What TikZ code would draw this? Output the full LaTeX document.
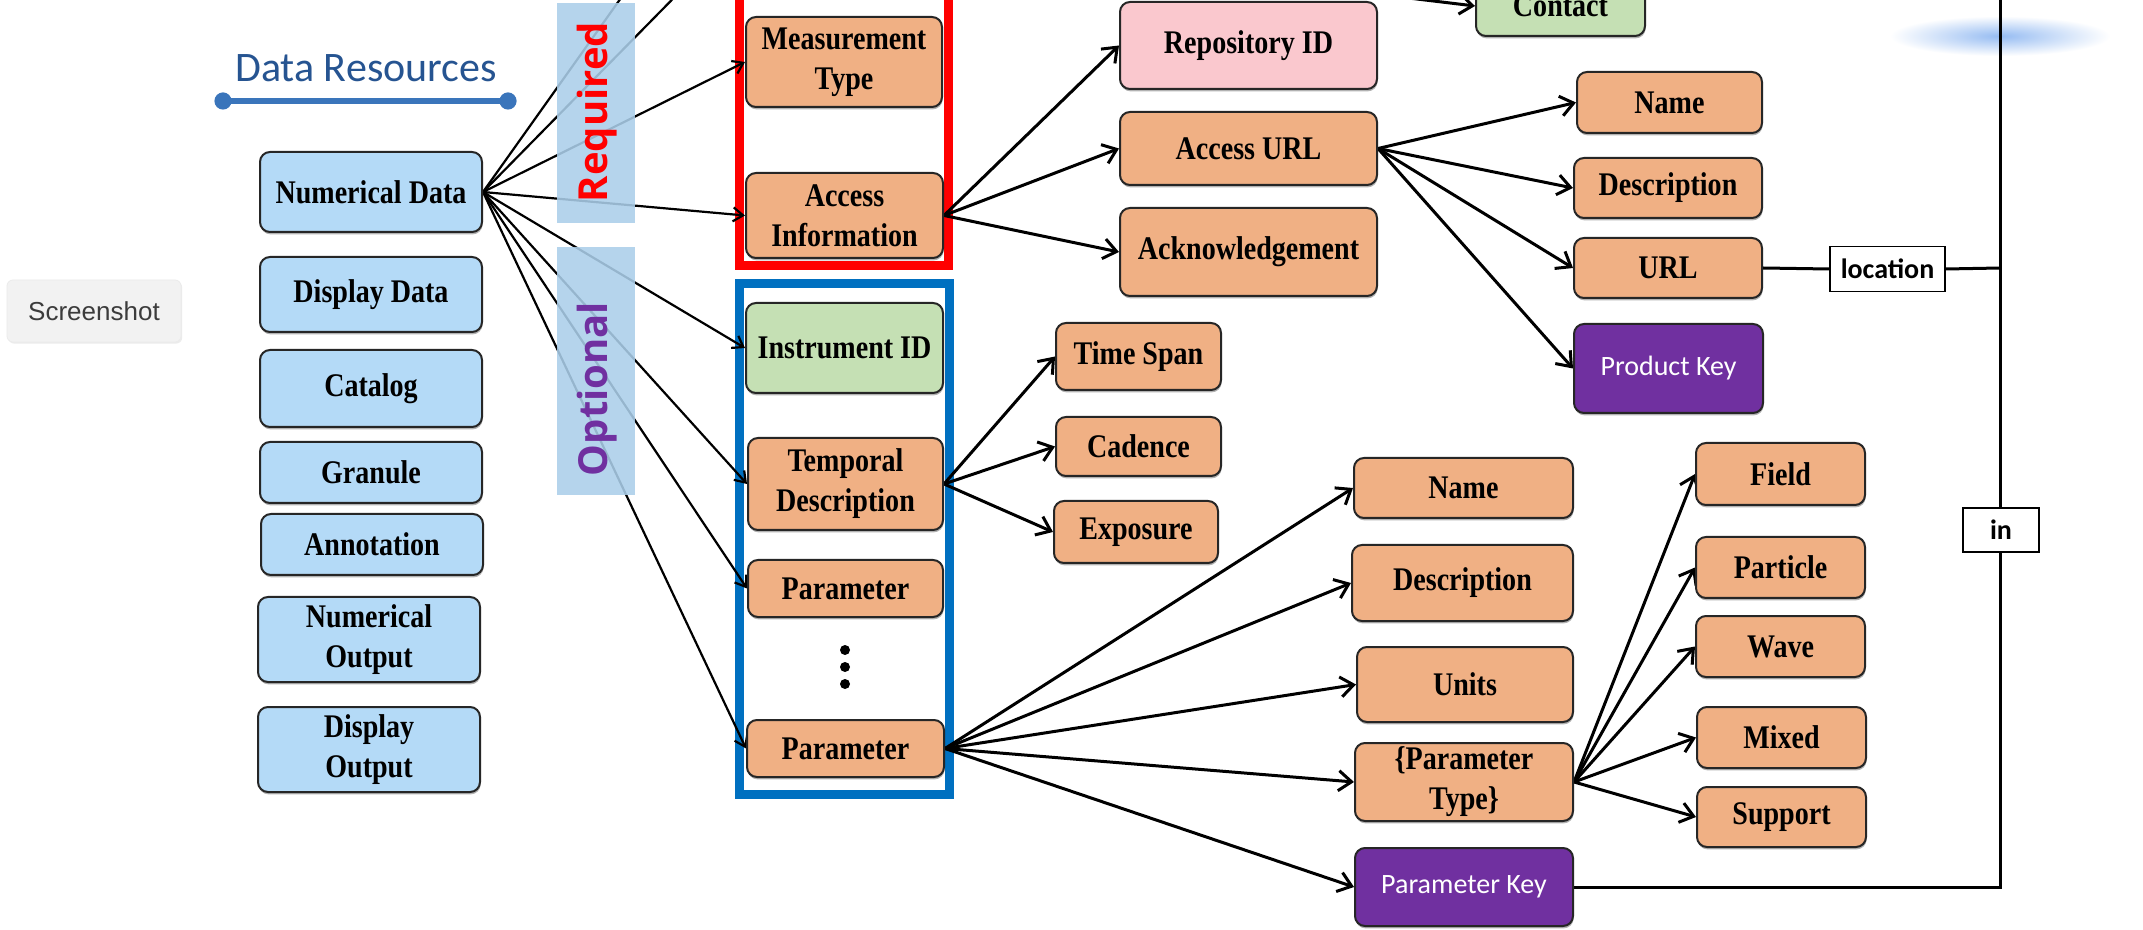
\documentclass[tikz,border=0pt]{standalone}
\usepackage{fontspec}
\usetikzlibrary{arrows.meta,shadows,calc}
\newfontfamily\boxfont[FakeStretch=0.85]{Liberation Serif}
\newfontfamily\calfont{Carlito}
\newfontfamily\opfont{Open Sans}
\newfontfamily\uifont{Liberation Sans}
\definecolor{cblue}{RGB}{180,218,247}
\definecolor{corange}{RGB}{240,176,132}
\definecolor{cpink}{RGB}{250,200,206}
\definecolor{cgreen}{RGB}{197,224,180}
\definecolor{cpurple}{RGB}{112,48,160}
\definecolor{cband}{RGB}{171,207,234}
\definecolor{cframeblue}{RGB}{0,112,192}
\definecolor{ctitle}{RGB}{38,84,145}
\definecolor{cline}{RGB}{58,117,187}
\definecolor{cgraytext}{RGB}{60,60,60}
\definecolor{cellipse}{RGB}{150,188,242}
\pgfdeclarelayer{bg}
\pgfdeclarelayer{frames}
\pgfdeclarelayer{edges}
\pgfdeclarelayer{bands}
\pgfsetlayers{bg,frames,edges,bands,main}
\tikzset{
  wh/.style 2 args={minimum width=#1*0.5pt, minimum height=#2*0.5pt},
  bx/.style={draw=black!85, line width=1pt, rounded corners=5pt, align=center,
    inner sep=1pt, font=\boxfont\bfseries\fontsize{16.5}{20}\selectfont,
    drop shadow={shadow xshift=0.3pt, shadow yshift=-1.2pt, fill=black!50, opacity=0.6}},
  blu/.style={bx, fill=cblue},
  org/.style={bx, fill=corange},
  pnk/.style={bx, fill=cpink},
  grn/.style={bx, fill=cgreen},
  prp/.style={bx, fill=cpurple, text=white, font=\calfont\fontsize{14}{17}\selectfont},
  lbl/.style={draw=black, line width=0.8pt, fill=white, inner sep=1pt,
    font=\calfont\bfseries\fontsize{14}{17}\selectfont},
  arr/.style={line width=1.5pt, -{Straight Barb[length=6.5pt,width=10pt,line width=1.5pt]}},
  thinarr/.style={line width=1.1pt, -{Straight Barb[length=5pt,width=7pt,line width=1.1pt]}},
  conn/.style={line width=1.5pt},
  band/.style={fill=cband, draw=none},
  frame/.style={line width=4.5pt},
}
\begin{document}
\begin{tikzpicture}[x=0.5pt,y=-0.5pt]
\useasboundingbox (0,0) rectangle (2143,930);
\begin{pgfonlayer}{bg}
  \fill[white] (0,0) rectangle (2143,930);
\end{pgfonlayer}

% screenshot button
\node[fill=black!5, draw=black!8, rounded corners=3pt, wh={174}{62},
  drop shadow={shadow xshift=0.6pt, shadow yshift=-0.8pt, fill=black!12, opacity=0.6},
  text=cgraytext, font=\uifont\fontsize{13}{15}\selectfont] (shot) at (94,311) {Screenshot};

% title
\node[text=ctitle, font=\calfont\fontsize{21}{24}\selectfont, inner sep=0pt] (title) at (366,68) {Data Resources};
\coordinate (tl) at (223,101);
\coordinate (tr) at (508,101);
\draw[cline, line width=3pt] (tl) -- (tr);
\fill[cline] (tl) circle[radius=4.3pt];
\fill[cline] (tr) circle[radius=4.3pt];

% left column
\node[blu, wh={222}{80}] (nd) at (371,192) {Numerical Data};
\node[blu, wh={222}{75}] (dd) at (371,294.5) {Display Data};
\node[blu, wh={222}{77}] (cat) at (371,388.5) {Catalog};
\node[blu, wh={222}{61}] (gran) at (371,472.5) {Granule};
\node[blu, wh={222}{61}] (ann) at (372,544.5) {Annotation};
\node[blu, wh={222}{85}] (nout) at (369,639.5) {Numerical\\Output};
\node[blu, wh={222}{85}] (dout) at (369,749.5) {Display\\Output};

% middle column
\node[org, wh={196}{90}] (mt) at (844,62) {Measurement\\Type};
\node[org, wh={197}{85}] (ai) at (844.5,215.5) {Access\\Information};
\node[grn, wh={197}{90}] (iid) at (844.5,348) {Instrument ID};
\node[org, wh={195}{92}] (td) at (845.5,484) {Temporal\\Description};
\node[org, wh={195}{57}] (p1) at (845.5,588.5) {Parameter};
\node[org, wh={197}{57}] (p2) at (845.5,748.5) {Parameter};
\fill (845,650) circle[radius=2.5pt];
\fill (845,667) circle[radius=2.5pt];
\fill (845,684) circle[radius=2.5pt];

% access info children
\node[pnk, wh={257}{87}] (rid) at (1248.5,45.5) {Repository ID};
\node[org, wh={257}{73}] (aurl) at (1248.5,148.5) {Access URL};
\node[org, wh={257}{88}] (ack) at (1248.5,252) {Acknowledgement};
\node[grn, wh={169}{60}] (contact) at (1560.5,6) {Contact};

% access url children
\node[org, wh={185}{61}] (name1) at (1669.5,102.5) {Name};
\node[org, wh={188}{60}] (desc1) at (1668,188) {Description};
\node[org, wh={188}{60}] (url) at (1668,268) {URL};
\node[prp, wh={189}{89}] (pkey) at (1668.5,368.5) {Product Key};

% temporal children
\node[org, wh={165}{67}] (ts) at (1138.5,356.5) {Time Span};
\node[org, wh={165}{59}] (cad) at (1138.5,446.5) {Cadence};
\node[org, wh={164}{62}] (expo) at (1136,532) {Exposure};

% parameter children
\node[org, wh={219}{60}] (name2) at (1463.5,488) {Name};
\node[org, wh={221}{76}] (desc2) at (1462.5,583) {Description};
\node[org, wh={216}{75}] (units) at (1465,684.5) {Units};
\node[org, wh={218}{78}] (ptype) at (1464,782) {\{Parameter\\Type\}};
\node[prp, wh={218}{78}] (parkey) at (1464,887) {Parameter Key};

% parameter type children
\node[org, wh={169}{62}] (field) at (1780.5,474) {Field};
\node[org, wh={169}{61}] (particle) at (1780.5,567.5) {Particle};
\node[org, wh={169}{61}] (wave) at (1780.5,646.5) {Wave};
\node[org, wh={169}{61}] (mixed) at (1781.5,737.5) {Mixed};
\node[org, wh={169}{60}] (support) at (1781.5,817) {Support};

% labels on the key line
\node[lbl, wh={115}{45}] (loc) at (1887.5,269) {location};
\node[lbl, wh={76}{44}] (inl) at (2001,530) {in};

% coordinates for off-canvas ends
\coordinate (off1) at (648,-40);
\coordinate (off2) at (711,-40);
\coordinate (offc) at (1300,-15);
\coordinate (vtop) at (2000,-20);
\coordinate (vbot) at (2000,887);
\coordinate (vurl) at (2000,268);

\begin{pgfonlayer}{frames}
  \shade[inner color=cellipse, outer color=white] (2000,36) ellipse[x radius=55pt, y radius=10pt];
  \draw[red, frame] (739,-20) rectangle (948,266);
  \draw[cframeblue, frame] (739,284) rectangle (949,794);
\end{pgfonlayer}

\begin{pgfonlayer}{edges}
  % from Numerical Data
  \draw[line width=1.1pt] (nd.east) -- (off1);
  \draw[line width=1.1pt] (nd.east) -- (off2);
  \draw[thinarr] (nd.east) -- (mt.west);
  \draw[thinarr] (nd.east) -- (ai.west);
  \draw[thinarr] (nd.east) -- (iid.west);
  \draw[thinarr] (nd.east) -- (td.west);
  \draw[thinarr] (nd.east) -- (p1.west);
  \draw[thinarr] (nd.east) -- (p2.west);
  % access information
  \draw[arr] (ai.east) -- (rid.west);
  \draw[arr] (ai.east) -- (aurl.west);
  \draw[arr] (ai.east) -- (ack.west);
  \draw[arr] (offc) -- (contact.west);
  % access url
  \draw[arr] (aurl.east) -- (name1.west);
  \draw[arr] (aurl.east) -- (desc1.west);
  \draw[arr] (aurl.east) -- (url.west);
  \draw[arr] (aurl.east) -- (pkey.west);
  % temporal
  \draw[arr] (td.east) -- (ts.west);
  \draw[arr] (td.east) -- (cad.west);
  \draw[arr] (td.east) -- (expo.west);
  % parameter
  \draw[arr] (p2.east) -- (name2.west);
  \draw[arr] (p2.east) -- (desc2.west);
  \draw[arr] (p2.east) -- (units.west);
  \draw[arr] (p2.east) -- (ptype.west);
  \draw[arr] (p2.east) -- (parkey.west);
  % parameter type
  \draw[arr] (ptype.east) -- (field.west);
  \draw[arr] (ptype.east) -- (particle.west);
  \draw[arr] (ptype.east) -- (wave.west);
  \draw[arr] (ptype.east) -- (mixed.west);
  \draw[arr] (ptype.east) -- (support.west);
  % key line
  \draw[conn] (url.east) -- (loc.west);
  \draw[conn] (loc.east) -- (vurl);
  \draw[conn] (vtop) -- (vbot) -- (parkey.east);
\end{pgfonlayer}

\begin{pgfonlayer}{bands}
  \fill[band, opacity=0.88] (557,3) rectangle (635,223);
  \fill[band, opacity=0.88] (557,247) rectangle (635,495);
  \node[rotate=90, text=red, font=\opfont\bfseries\fontsize{20}{24}\selectfont, inner sep=0pt] (req) at (597,112) {Required};
  \node[rotate=90, text=cpurple, font=\opfont\bfseries\fontsize{20}{24}\selectfont, inner sep=0pt] (opt) at (597,389) {Optional};
\end{pgfonlayer}
\end{tikzpicture}
\end{document}
